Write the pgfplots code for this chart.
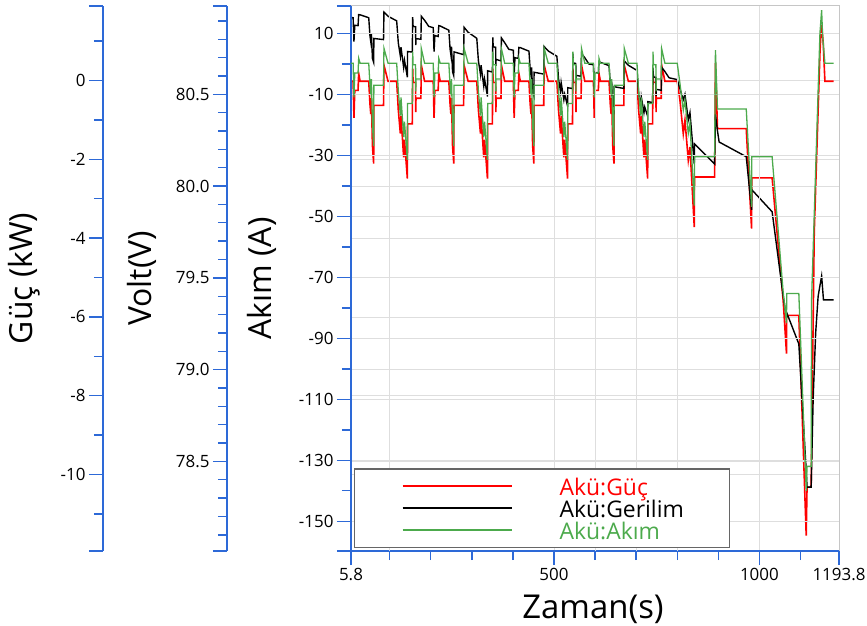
\documentclass[border=0pt]{standalone}
\usepackage{fontspec}
\setmainfont{Open Sans}
\usepackage{pgfplots}
\pgfplotsset{compat=1.18}
\definecolor{axblue}{RGB}{45,105,215}
\definecolor{gridgray}{RGB}{222,222,222}
\definecolor{akgreen}{RGB}{76,170,76}
\newcommand{\labfont}{\fontsize{32}{36}\selectfont}
\pgfplotsset{
 common/.style={
  scale only axis, width=488bp, height=545bp, at={(0,0)}, anchor=south west,
  xmin=5.8, xmax=1193.8,
  tick align=outside,
  major tick length=14bp, minor tick length=9bp,
  tick style={axblue, line width=1.4bp},
  axis line style={axblue, line width=1.5bp, -},
  ymajorgrids, grid style={gridgray, line width=0.8bp},
  tick label style={font=\fontsize{17}{20}\selectfont, text=black},
  clip mode=individual,
 },
 side/.style={common, axis x line*=bottom, hide x axis, axis y line*=left, xtick=\empty, ytick pos=left},
}
\begin{document}
\begin{tikzpicture}
\useasboundingbox (-351bp,-75bp) rectangle (516bp,551bp);
% ---------------- Guc axis (red)
\begin{axis}[side,
  ymin=-11.94, ymax=1.89,
  ytick={-10,-8,-6,-4,-2,0}, yticklabels={-10,-8,-6,-4,-2,0},
  minor ytick={-11,-9,-7,-5,-3,-1,1},
  extra y ticks={-11.94,1.89}, extra y tick labels={}, extra y tick style={grid=none},
  axis y line shift=248bp,
  every axis y label/.style={at={(axis description cs:-0.67,0.5)}, rotate=90, anchor=center, font=\labfont},
  ylabel={Güç (kW)}]
\addplot[red, line width=1.6bp] coordinates {
(0,-0.02)(11,-0.02)(13,-0.95)(15,-0.25)(23,-0.25)(24.5,0.18)(28,-0.02)(49,-0.02)(52,-0.6)(54,-0.85)(55.5,-0.45)(58,-1.65)(61,-2.11)(61.5,-0.63)(85,-0.63)(86,0.39)(96,-0.02)(117,-0.02)(121,-0.75)(126,-1.35)(127.5,-0.9)(134,-1.95)(136,-1.5)(143,-2.49)(143.5,-1.1)(155,-1.1)(156,0.3)(157,-0.05)(163,-0.05)(163.5,-0.8)(164,-0.45)(176,-0.45)(177,0.39)(185,-0.02)
(195,-0.02)(206,-0.02)(208,-0.95)(210,-0.25)(218,-0.25)(219.5,0.18)(223,-0.02)(244,-0.02)(247,-0.6)(249,-0.85)(250.5,-0.45)(253,-1.65)(256,-2.11)(256.5,-0.63)(280,-0.63)(281,0.39)(291,-0.02)(312,-0.02)(316,-0.75)(321,-1.35)(322.5,-0.9)(329,-1.95)(331,-1.5)(338,-2.49)(338.5,-1.1)(350,-1.1)(351,0.3)(352,-0.05)(358,-0.05)(358.5,-0.8)(359,-0.45)(371,-0.45)(372,0.39)(380,-0.02)
(390,-0.02)(401,-0.02)(403,-0.95)(405,-0.25)(413,-0.25)(414.5,0.18)(418,-0.02)(439,-0.02)(442,-0.6)(444,-0.85)(445.5,-0.45)(448,-1.65)(451,-2.11)(451.5,-0.63)(475,-0.63)(476,0.39)(486,-0.02)(507,-0.02)(511,-0.75)(516,-1.35)(517.5,-0.9)(524,-1.95)(526,-1.5)(533,-2.49)(533.5,-1.1)(545,-1.1)(546,0.3)(547,-0.05)(553,-0.05)(553.5,-0.8)(554,-0.45)(566,-0.45)(567,0.39)(575,-0.02)
(585,-0.02)(596,-0.02)(598,-0.95)(600,-0.25)(608,-0.25)(609.5,0.18)(613,-0.02)(634,-0.02)(637,-0.6)(639,-0.85)(640.5,-0.45)(643,-1.65)(646,-2.11)(646.5,-0.63)(670,-0.63)(671,0.39)(681,-0.02)(702,-0.02)(706,-0.75)(711,-1.35)(712.5,-0.9)(719,-1.95)(721,-1.5)(728,-2.49)(728.5,-1.1)(740,-1.1)(741,0.3)(742,-0.05)(748,-0.05)(748.5,-0.8)(749,-0.45)(761,-0.45)(762,0.39)(770,-0.02)
(780,-0.02)(800,-0.02)(806.6,-0.50)(814.7,-1.35)(818.8,-1.01)(826.9,-2.02)(831,-1.69)(841.5,-3.72)(842,-2.45)(891,-2.45)(893,0.44)(898,-1.22)(968,-1.22)(981,-3.76)(981.5,-2.47)(1031,-2.47)(1058,-5.6)(1066,-6.93)(1066.5,-5.96)(1096,-5.96)(1114,-11.55)(1116,-10.32)(1126,-10.32)(1133.5,-3.88)(1143,-0.75)(1147.4,0.69)(1149.8,1.2)(1151.5,1.4)(1155.4,0.95)(1159.5,-0.02)(1181,-0.02)
};
\end{axis}
% ---------------- Volt axis (black)
\begin{axis}[side,
  ymin=78.012, ymax=80.981,
  ytick={78.5,79,79.5,80,80.5}, yticklabels={78.5,79.0,79.5,80.0,80.5},
  minor ytick={78.1,78.2,78.3,78.4,78.6,78.7,78.8,78.9,79.1,79.2,79.3,79.4,79.6,79.7,79.8,79.9,80.1,80.2,80.3,80.4,80.6,80.7,80.8,80.9},
  extra y ticks={78.012,80.981}, extra y tick labels={}, extra y tick style={grid=none},
  axis y line shift=124bp,
  every axis y label/.style={at={(axis description cs:-0.4283,0.5)}, rotate=90, anchor=center, font=\labfont},
  ylabel={Volt(V)}]
\addplot[black, line width=1.4bp] coordinates {
(0,80.920)(11,80.917)(13,80.787)(15,80.876)(23,80.874)(24.5,80.934)(28,80.933)(49,80.917)(52,80.817)(54,80.786)(55.5,80.831)(58,80.695)(61,80.674)(61.5,80.804)(85,80.798)(86,80.948)(96,80.925)(117,80.900)(121,80.779)(126,80.708)(127.5,80.757)(134,80.646)(136,80.685)(143,80.593)(143.5,80.733)(155,80.730)(156,80.920)(157,80.870)(163,80.868)(163.5,80.768)(164,80.803)(176,80.800)(177,80.925)(185,80.903)
(195,80.870)(206,80.863)(208,80.732)(210,80.820)(218,80.815)(219.5,80.874)(223,80.872)(244,80.849)(247,80.747)(249,80.715)(250.5,80.759)(253,80.623)(256,80.601)(256.5,80.731)(280,80.716)(281,80.865)(291,80.838)(312,80.805)(316,80.682)(321,80.609)(322.5,80.658)(329,80.544)(331,80.583)(338,80.488)(338.5,80.628)(350,80.621)(351,80.810)(352,80.759)(358,80.756)(358.5,80.655)(359,80.690)(371,80.682)(372,80.807)(380,80.781)
(390,80.745)(401,80.740)(403,80.610)(405,80.699)(413,80.696)(414.5,80.755)(418,80.754)(439,80.735)(442,80.634)(444,80.603)(445.5,80.647)(448,80.511)(451,80.490)(451.5,80.620)(475,80.610)(476,80.760)(486,80.736)(507,80.707)(511,80.585)(516,80.513)(517.5,80.563)(524,80.470)(526,80.500)(533,80.436)(533.5,80.536)(545,80.531)(546,80.721)(547,80.671)(553,80.668)(553.5,80.568)(554,80.603)(566,80.598)(567,80.722)(575,80.699)
(585,80.665)(596,80.661)(598,80.530)(600,80.619)(608,80.616)(609.5,80.676)(613,80.674)(634,80.656)(637,80.555)(639,80.524)(640.5,80.569)(643,80.433)(646,80.412)(646.5,80.541)(670,80.532)(671,80.682)(681,80.658)(702,80.630)(706,80.508)(711,80.436)(712.5,80.486)(719,80.400)(721,80.430)(728,80.380)(728.5,80.460)(740,80.455)(741,80.645)(742,80.595)(748,80.592)(748.5,80.492)(749,80.527)(761,80.522)(762,80.647)(770,80.624)
(780,80.59)(800,80.58)(806.6,80.53)(814.7,80.47)(818.8,80.50)(826.9,80.36)(831,80.40)(841.5,80.12)(842,80.23)(891,80.12)(893,80.39)(898,80.30)(902,80.24)(968,80.16)(981,79.87)(981.5,79.98)(1031,79.86)(1058,79.40)(1066,79.28)(1066.5,79.31)(1096,79.14)(1114,78.45)(1116,78.36)(1126,78.36)(1131,78.85)(1137,79.20)(1143,79.40)(1151.5,79.51)(1156,79.38)(1181,79.38)
};
\end{axis}
% ---------------- Akim axis (green), main
\begin{axis}[common,
  axis x line*=bottom, axis y line*=left,
  ymin=-159.74, ymax=18.96,
  ytick={-150,-130,-110,-90,-70,-50,-30,-10,10},
  yticklabels={-150,-130,-110,-90,-70,-50,-30,-10,10},
  minor ytick={-140,-120,-100,-80,-60,-40,-20,0},
  extra y ticks={-159.74,18.96}, extra y tick labels={}, extra y tick style={grid=none},
  xtick={5.8,500,1000,1193.8}, xticklabels={5.8,500,1000,1193.8},
  minor xtick={200,300,400,900,1100},
  extra x ticks={100,600,700,800}, extra x tick labels={},
  extra x tick style={grid=major, major tick length=9bp},
  xmajorgrids,
  every axis y label/.style={at={(axis description cs:-0.1824,0.5)}, rotate=90, anchor=center, font=\labfont},
  every axis x label/.style={at={(axis description cs:0.496,-0.124)}, anchor=base, font=\fontsize{33}{36}\selectfont},
  ylabel={Akım (A)}, xlabel={Zaman(s)},
  legend style={at={(axis description cs:0.00615,0.0055)}, anchor=south west,
    draw=gray!80!black, line width=1.2bp, fill=white, inner xsep=0pt, inner ysep=6.25bp,
    font=\fontsize{23}{25}\selectfont, nodes={inner sep=0pt}, cells={anchor=center}},
  legend image code/.code={\draw[#1, line width=1.8bp] (48bp,0bp) -- (157bp,0bp); \path[draw=none,fill=none] (0bp,0bp) -- (205bp,0bp);},
  ]
\draw[gray!45, line width=1bp] (rel axis cs:0,1) -- (rel axis cs:1,1) -- (rel axis cs:1,0);
\addlegendimage{red}
\addlegendentry{\makebox[170bp][l]{\color{red}Akü:Güç}\rule[-6bp]{0pt}{26.5bp}}
\addlegendimage{black}
\addlegendentry{\makebox[170bp][l]{\color{black}Akü:Gerilim}\rule[-6bp]{0pt}{26.5bp}}
\addplot[akgreen, line width=1.3bp] coordinates {
(0,0.2)(11,0.2)(13,-11)(15,-3)(23,-3)(24.5,1.8)(28,0.2)(49,0.2)(52,-7)(54,-10)(55.5,-5)(58,-20)(61,-27)(61.5,-7)(85,-7)(86,5.1)(96,0.2)(117,0.2)(121,-9)(126,-17)(127.5,-11)(134,-24)(136,-19)(143,-31.5)(143.5,-13)(155,-13)(156,4)(157,-0.3)(163,-0.3)(163.5,-9)(164,-5)(176,-5)(177,5)(185,0.2)
(195,0.2)(206,0.2)(208,-11)(210,-3)(218,-3)(219.5,1.8)(223,0.2)(244,0.2)(247,-7)(249,-10)(250.5,-5)(253,-20)(256,-27)(256.5,-7)(280,-7)(281,5.1)(291,0.2)(312,0.2)(316,-9)(321,-17)(322.5,-11)(329,-24)(331,-19)(338,-31.5)(338.5,-13)(350,-13)(351,4)(352,-0.3)(358,-0.3)(358.5,-9)(359,-5)(371,-5)(372,5)(380,0.2)
(390,0.2)(401,0.2)(403,-11)(405,-3)(413,-3)(414.5,1.8)(418,0.2)(439,0.2)(442,-7)(444,-10)(445.5,-5)(448,-20)(451,-27)(451.5,-7)(475,-7)(476,5.1)(486,0.2)(507,0.2)(511,-9)(516,-17)(517.5,-11)(524,-24)(526,-19)(533,-31.5)(533.5,-13)(545,-13)(546,4)(547,-0.3)(553,-0.3)(553.5,-9)(554,-5)(566,-5)(567,5)(575,0.2)
(585,0.2)(596,0.2)(598,-11)(600,-3)(608,-3)(609.5,1.8)(613,0.2)(634,0.2)(637,-7)(639,-10)(640.5,-5)(643,-20)(646,-27)(646.5,-7)(670,-7)(671,5.1)(681,0.2)(702,0.2)(706,-9)(711,-17)(712.5,-11)(719,-24)(721,-19)(728,-31.5)(728.5,-13)(740,-13)(741,4)(742,-0.3)(748,-0.3)(748.5,-9)(749,-5)(761,-5)(762,5)(770,0.2)
(780,0.2)(800,0.2)(806.6,-6.4)(814.7,-15.2)(818.8,-11.9)(826.9,-22.8)(831,-19.5)(841.5,-46.5)(842,-30.5)(891,-30.5)(893,4.5)(898,-14.8)(968,-14.8)(981,-46.9)(981.5,-30.5)(1031,-30.5)(1058,-75)(1066,-85)(1066.5,-75.3)(1096,-75.3)(1114,-140)(1116,-132)(1126,-132)(1127,-77.5)(1147.4,10)(1151.5,17.6)(1154,9)(1159.5,0.2)(1181,0.2)
};
\addlegendentry{\makebox[170bp][l]{\color{akgreen}Akü:Akım}\rule[-6bp]{0pt}{26.5bp}}
\end{axis}
\end{tikzpicture}
\end{document}
